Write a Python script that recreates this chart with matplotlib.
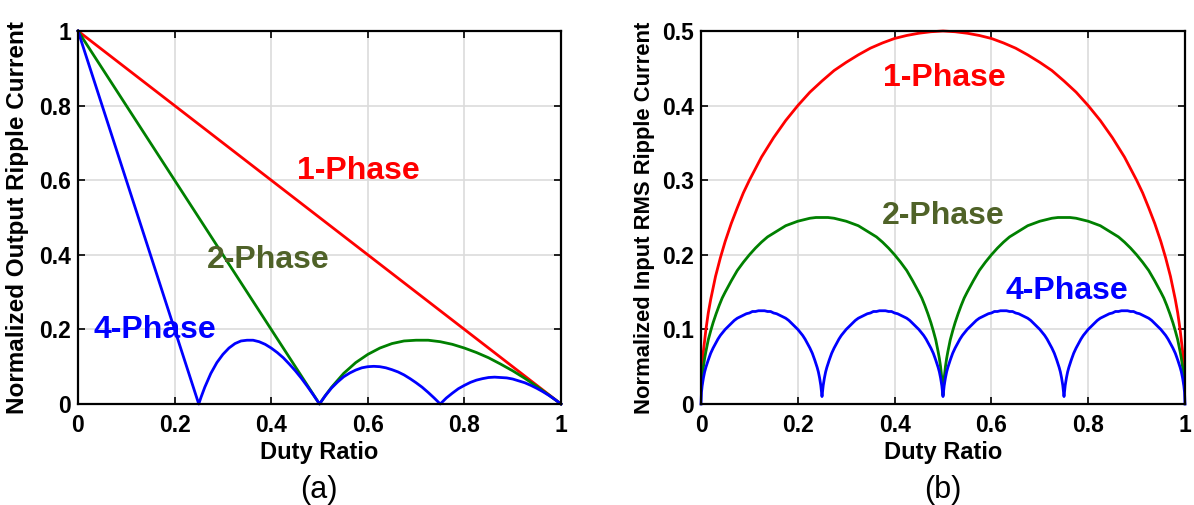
import numpy as np
import matplotlib
matplotlib.use("Agg")
import matplotlib.pyplot as plt

plt.rcParams['font.family'] = ['Liberation Sans', 'DejaVu Sans']

# ---- (a) normalized output ripple current ----
out_1ph_d = [0, 1]
out_1ph_y = [1, 0]

out_2ph_d = [0, 0.5, 0.51, 0.525, 0.55, 0.575, 0.6, 0.625, 0.65, 0.675, 0.7, 0.725, 0.75,
             0.775, 0.8, 0.825, 0.85, 0.875, 0.9, 0.925, 0.95, 0.975, 1.0]
out_2ph_y = [1, 0, 0.019, 0.045, 0.082, 0.111, 0.133, 0.15, 0.162, 0.169, 0.171, 0.171, 0.167,
             0.160, 0.15, 0.138, 0.124, 0.107, 0.089, 0.069, 0.047, 0.024, 0]

out_4ph_d = [0, 0.25, 0.255, 0.2625, 0.275, 0.2875, 0.3, 0.3125, 0.325, 0.3375, 0.35, 0.3625, 0.375,
             0.3875, 0.4, 0.4125, 0.425, 0.4375, 0.45, 0.4625, 0.475, 0.4875, 0.5,
             0.5125, 0.525, 0.5375, 0.55, 0.5625, 0.575, 0.5875, 0.6, 0.6125, 0.625,
             0.6375, 0.65, 0.6625, 0.675, 0.6875, 0.7, 0.7125, 0.725, 0.7375, 0.75,
             0.7625, 0.775, 0.7875, 0.8, 0.8125, 0.825, 0.8375, 0.85, 0.8625, 0.875,
             0.8875, 0.9, 0.9125, 0.925, 0.9375, 0.95, 0.9625, 0.975, 0.9875, 1.0]
out_4ph_y = [1, 0, 0.019, 0.045, 0.082, 0.111, 0.133, 0.15, 0.162, 0.169, 0.171, 0.171, 0.167,
             0.160, 0.15, 0.138, 0.124, 0.107, 0.089, 0.069, 0.047, 0.024, 0,
             0.023, 0.043, 0.059, 0.073, 0.083, 0.091, 0.097, 0.1, 0.101, 0.1,
             0.097, 0.092, 0.086, 0.078, 0.068, 0.057, 0.045, 0.031, 0.016, 0,
             0.016, 0.029, 0.041, 0.05, 0.058, 0.064, 0.068, 0.071, 0.072, 0.071,
             0.070, 0.067, 0.062, 0.057, 0.05, 0.042, 0.033, 0.023, 0.012, 0]

# ---- (b) normalized input RMS ripple current ----
in_1ph_d = [0.001, 0.0025, 0.005, 0.01, 0.015, 0.02, 0.03, 0.04, 0.05, 0.0625, 0.075, 0.0875,
            0.1, 0.125, 0.15, 0.175, 0.2, 0.225, 0.25, 0.275, 0.3, 0.325, 0.35, 0.375, 0.4, 0.425,
            0.45, 0.475, 0.5, 0.525, 0.55, 0.575, 0.6, 0.625, 0.65, 0.675, 0.7, 0.725, 0.75, 0.775,
            0.8, 0.825, 0.85, 0.875, 0.9, 0.9125, 0.925, 0.9375, 0.95, 0.96, 0.97, 0.98, 0.985,
            0.99, 0.995, 0.9975, 0.999]
in_1ph_y = [0.032, 0.05, 0.071, 0.099, 0.122, 0.14, 0.171, 0.196, 0.218, 0.242, 0.263, 0.283,
            0.3, 0.331, 0.357, 0.38, 0.4, 0.418, 0.433, 0.447, 0.458, 0.468, 0.477, 0.484, 0.49, 0.494,
            0.497, 0.499, 0.5, 0.499, 0.497, 0.494, 0.49, 0.484, 0.477, 0.468, 0.458, 0.447, 0.433, 0.418,
            0.4, 0.38, 0.357, 0.331, 0.3, 0.283, 0.263, 0.242, 0.218, 0.196, 0.171, 0.14, 0.122,
            0.099, 0.071, 0.05, 0.032]

in_2ph_d = [0.001, 0.0025, 0.005, 0.0075, 0.01, 0.015, 0.02, 0.025, 0.03125, 0.0375, 0.04375, 0.05,
            0.0625, 0.075, 0.0875, 0.1, 0.1125, 0.125, 0.1375, 0.15, 0.1625, 0.175, 0.1875, 0.2,
            0.2125, 0.225, 0.2375, 0.25, 0.2625, 0.275, 0.2875, 0.3, 0.3125, 0.325, 0.3375, 0.35,
            0.3625, 0.375, 0.3875, 0.4, 0.4125, 0.425, 0.4375, 0.45, 0.45625, 0.4625, 0.46875, 0.475,
            0.48, 0.485, 0.49, 0.4925, 0.495, 0.4975, 0.499, 0.5,
            0.501, 0.5025, 0.505, 0.5075, 0.51, 0.515, 0.52, 0.525, 0.53125, 0.5375, 0.54375, 0.55,
            0.5625, 0.575, 0.5875, 0.6, 0.6125, 0.625, 0.6375, 0.65, 0.6625, 0.675, 0.6875, 0.7,
            0.7125, 0.725, 0.7375, 0.75, 0.7625, 0.775, 0.7875, 0.8, 0.8125, 0.825, 0.8375, 0.85,
            0.8625, 0.875, 0.8875, 0.9, 0.9125, 0.925, 0.9375, 0.95, 0.95625, 0.9625, 0.96875, 0.975,
            0.98, 0.985, 0.99, 0.9925, 0.995, 0.9975, 0.999]
in_2ph_y = [0.022, 0.035, 0.05, 0.061, 0.07, 0.086, 0.098, 0.109, 0.121, 0.132, 0.142, 0.15,
            0.165, 0.179, 0.19, 0.2, 0.209, 0.217, 0.224, 0.229, 0.234, 0.239, 0.242, 0.245,
            0.247, 0.249, 0.25, 0.25, 0.25, 0.249, 0.247, 0.245, 0.242, 0.239, 0.234, 0.229,
            0.224, 0.217, 0.209, 0.2, 0.19, 0.179, 0.165, 0.15, 0.142, 0.132, 0.121, 0.109,
            0.098, 0.086, 0.07, 0.061, 0.05, 0.035, 0.022, 0.012,
            0.022, 0.035, 0.05, 0.061, 0.07, 0.086, 0.098, 0.109, 0.121, 0.132, 0.142, 0.15,
            0.165, 0.179, 0.19, 0.2, 0.209, 0.217, 0.224, 0.229, 0.234, 0.239, 0.242, 0.245,
            0.247, 0.249, 0.25, 0.25, 0.25, 0.249, 0.247, 0.245, 0.242, 0.239, 0.234, 0.229,
            0.224, 0.217, 0.209, 0.2, 0.19, 0.179, 0.165, 0.15, 0.142, 0.132, 0.121, 0.109,
            0.098, 0.086, 0.07, 0.061, 0.05, 0.035, 0.022]

in_4ph_d = [0, 0.001, 0.0025, 0.005, 0.0075, 0.01, 0.015, 0.02, 0.025, 0.03, 0.035, 0.04, 0.045, 0.05,
            0.05625, 0.0625, 0.06875, 0.075, 0.08125, 0.0875, 0.09375, 0.1, 0.10625, 0.1125, 0.11875, 0.125,
            0.13125, 0.1375, 0.14375, 0.15, 0.15625, 0.1625, 0.16875, 0.175, 0.18125, 0.1875, 0.19375, 0.2,
            0.205, 0.21, 0.215, 0.22, 0.225, 0.23, 0.235, 0.24, 0.2425, 0.245, 0.2475, 0.249, 0.25,
            0.251, 0.2525, 0.255, 0.2575, 0.26, 0.265, 0.27, 0.275, 0.28, 0.285, 0.29, 0.295, 0.3,
            0.30625, 0.3125, 0.31875, 0.325, 0.33125, 0.3375, 0.34375, 0.35, 0.35625, 0.3625, 0.36875, 0.375,
            0.38125, 0.3875, 0.39375, 0.4, 0.40625, 0.4125, 0.41875, 0.425, 0.43125, 0.4375, 0.44375, 0.45,
            0.455, 0.46, 0.465, 0.47, 0.475, 0.48, 0.485, 0.49, 0.4925, 0.495, 0.4975, 0.499, 0.5,
            0.501, 0.5025, 0.505, 0.5075, 0.51, 0.515, 0.52, 0.525, 0.53, 0.535, 0.54, 0.545, 0.55,
            0.55625, 0.5625, 0.56875, 0.575, 0.58125, 0.5875, 0.59375, 0.6, 0.60625, 0.6125, 0.61875, 0.625,
            0.63125, 0.6375, 0.64375, 0.65, 0.65625, 0.6625, 0.66875, 0.675, 0.68125, 0.6875, 0.69375, 0.7,
            0.705, 0.71, 0.715, 0.72, 0.725, 0.73, 0.735, 0.74, 0.7425, 0.745, 0.7475, 0.749, 0.75,
            0.751, 0.7525, 0.755, 0.7575, 0.76, 0.765, 0.77, 0.775, 0.78, 0.785, 0.79, 0.795, 0.8,
            0.80625, 0.8125, 0.81875, 0.825, 0.83125, 0.8375, 0.84375, 0.85, 0.85625, 0.8625, 0.86875, 0.875,
            0.88125, 0.8875, 0.89375, 0.9, 0.90625, 0.9125, 0.91875, 0.925, 0.93125, 0.9375, 0.94375, 0.95,
            0.955, 0.96, 0.965, 0.97, 0.975, 0.98, 0.985, 0.99, 0.9925, 0.995, 0.9975, 0.999, 1.0]
in_4ph_y = [0, 0.016, 0.025, 0.035, 0.043, 0.049, 0.059, 0.068, 0.075, 0.081, 0.087, 0.092, 0.096, 0.1,
            0.104, 0.108, 0.112, 0.115, 0.117, 0.119, 0.121, 0.122, 0.124, 0.124, 0.125, 0.125,
            0.125, 0.124, 0.124, 0.122, 0.121, 0.119, 0.117, 0.115, 0.112, 0.108, 0.104, 0.1,
            0.096, 0.092, 0.087, 0.081, 0.075, 0.068, 0.059, 0.049, 0.043, 0.035, 0.025, 0.016, 0.01,
            0.016, 0.025, 0.035, 0.043, 0.049, 0.059, 0.068, 0.075, 0.081, 0.087, 0.092, 0.096, 0.1,
            0.104, 0.108, 0.112, 0.115, 0.117, 0.119, 0.121, 0.122, 0.124, 0.124, 0.125, 0.125,
            0.125, 0.124, 0.124, 0.122, 0.121, 0.119, 0.117, 0.115, 0.112, 0.108, 0.104, 0.1,
            0.096, 0.092, 0.087, 0.081, 0.075, 0.068, 0.059, 0.049, 0.043, 0.035, 0.025, 0.016, 0.01,
            0.016, 0.025, 0.035, 0.043, 0.049, 0.059, 0.068, 0.075, 0.081, 0.087, 0.092, 0.096, 0.1,
            0.104, 0.108, 0.112, 0.115, 0.117, 0.119, 0.121, 0.122, 0.124, 0.124, 0.125, 0.125,
            0.125, 0.124, 0.124, 0.122, 0.121, 0.119, 0.117, 0.115, 0.112, 0.108, 0.104, 0.1,
            0.096, 0.092, 0.087, 0.081, 0.075, 0.068, 0.059, 0.049, 0.043, 0.035, 0.025, 0.016, 0.01,
            0.016, 0.025, 0.035, 0.043, 0.049, 0.059, 0.068, 0.075, 0.081, 0.087, 0.092, 0.096, 0.1,
            0.104, 0.108, 0.112, 0.115, 0.117, 0.119, 0.121, 0.122, 0.124, 0.124, 0.125, 0.125,
            0.125, 0.124, 0.124, 0.122, 0.121, 0.119, 0.117, 0.115, 0.112, 0.108, 0.104, 0.1,
            0.096, 0.092, 0.087, 0.081, 0.075, 0.068, 0.059, 0.049, 0.043, 0.035, 0.025, 0.016, 0]

x_ticks = [0, 0.2, 0.4, 0.6, 0.8, 1]
x_ticklabels = ["0", "0.2", "0.4", "0.6", "0.8", "1"]
ya_ticks = [0, 0.2, 0.4, 0.6, 0.8, 1]
ya_ticklabels = ["0", "0.2", "0.4", "0.6", "0.8", "1"]
yb_ticks = [0, 0.1, 0.2, 0.3, 0.4, 0.5]
yb_ticklabels = ["0", "0.1", "0.2", "0.3", "0.4", "0.5"]

RED = "#FF0000"
GREEN = "#008000"
BLUE = "#0000FF"
OLIVE = "#4F6228"
LW = 2.0

fig = plt.figure(figsize=(11.94, 5.05), dpi=100)
ax1 = fig.add_axes([78 / 1194, 101 / 505, 483 / 1194, 373 / 505])
ax2 = fig.add_axes([701 / 1194, 101 / 505, 484 / 1194, 373 / 505])


def style_axes(ax, yticks, yticklabels, ylabel, ylabel_size):
    ax.set_xlim(0, 1)
    ax.set_xticks(x_ticks)
    ax.set_xticklabels(x_ticklabels, fontweight="bold")
    ax.set_ylim(yticks[0], yticks[-1])
    ax.set_yticks(yticks)
    ax.set_yticklabels(yticklabels, fontweight="bold")
    ax.tick_params(direction="in", length=5, width=1.2, labelsize=16.5,
                   top=True, right=True, pad=5)
    ax.tick_params(axis="x", pad=7)
    ax.grid(True, color="#DCDCDC", linewidth=1.2)
    ax.set_axisbelow(True)
    for sp in ax.spines.values():
        sp.set_linewidth(1.6)
        sp.set_zorder(5)
    ax.set_xlabel("Duty Ratio", fontsize=17, fontweight="bold")
    ax.set_ylabel(ylabel, fontsize=ylabel_size, fontweight="bold")
    ax.xaxis.set_label_coords(0.5, -0.1)


ax1.plot(out_1ph_d, out_1ph_y, color=RED, lw=LW, clip_on=False)
ax1.plot(out_2ph_d, out_2ph_y, color=GREEN, lw=LW, clip_on=False)
ax1.plot(out_4ph_d, out_4ph_y, color=BLUE, lw=LW, clip_on=False)
style_axes(ax1, ya_ticks, ya_ticklabels, "Normalized Output Ripple Current", 17.5)
ax1.yaxis.set_label_coords(-0.101, 0.5)
ax1.text(0.58, 0.603, "1-Phase", color=RED, fontsize=23, fontweight="bold", ha="center", va="baseline")
ax1.text(0.393, 0.365, "2-Phase", color=OLIVE, fontsize=23, fontweight="bold", ha="center", va="baseline")
ax1.text(0.159, 0.177, "4-Phase", color=BLUE, fontsize=23, fontweight="bold", ha="center", va="baseline")

ax2.plot(in_1ph_d, in_1ph_y, color=RED, lw=LW, clip_on=False)
ax2.plot(in_2ph_d, in_2ph_y, color=GREEN, lw=LW, clip_on=False)
ax2.plot(in_4ph_d, in_4ph_y, color=BLUE, lw=LW, clip_on=False)
style_axes(ax2, yb_ticks, yb_ticklabels, "Normalized Input RMS Ripple Current", 15.8)
ax2.yaxis.set_label_coords(-0.095, 0.5)
ax2.text(0.502, 0.426, "1-Phase", color=RED, fontsize=23, fontweight="bold", ha="center", va="baseline")
ax2.text(0.5, 0.241, "2-Phase", color=OLIVE, fontsize=23, fontweight="bold", ha="center", va="baseline")
ax2.text(0.756, 0.141, "4-Phase", color=BLUE, fontsize=23, fontweight="bold", ha="center", va="baseline")

fig.text(319 / 1194, 1 - 490 / 505, "(a)", fontsize=22, ha="center", va="center")
fig.text(943 / 1194, 1 - 490 / 505, "(b)", fontsize=22, ha="center", va="center")

fig.savefig("out.png", dpi=100)
